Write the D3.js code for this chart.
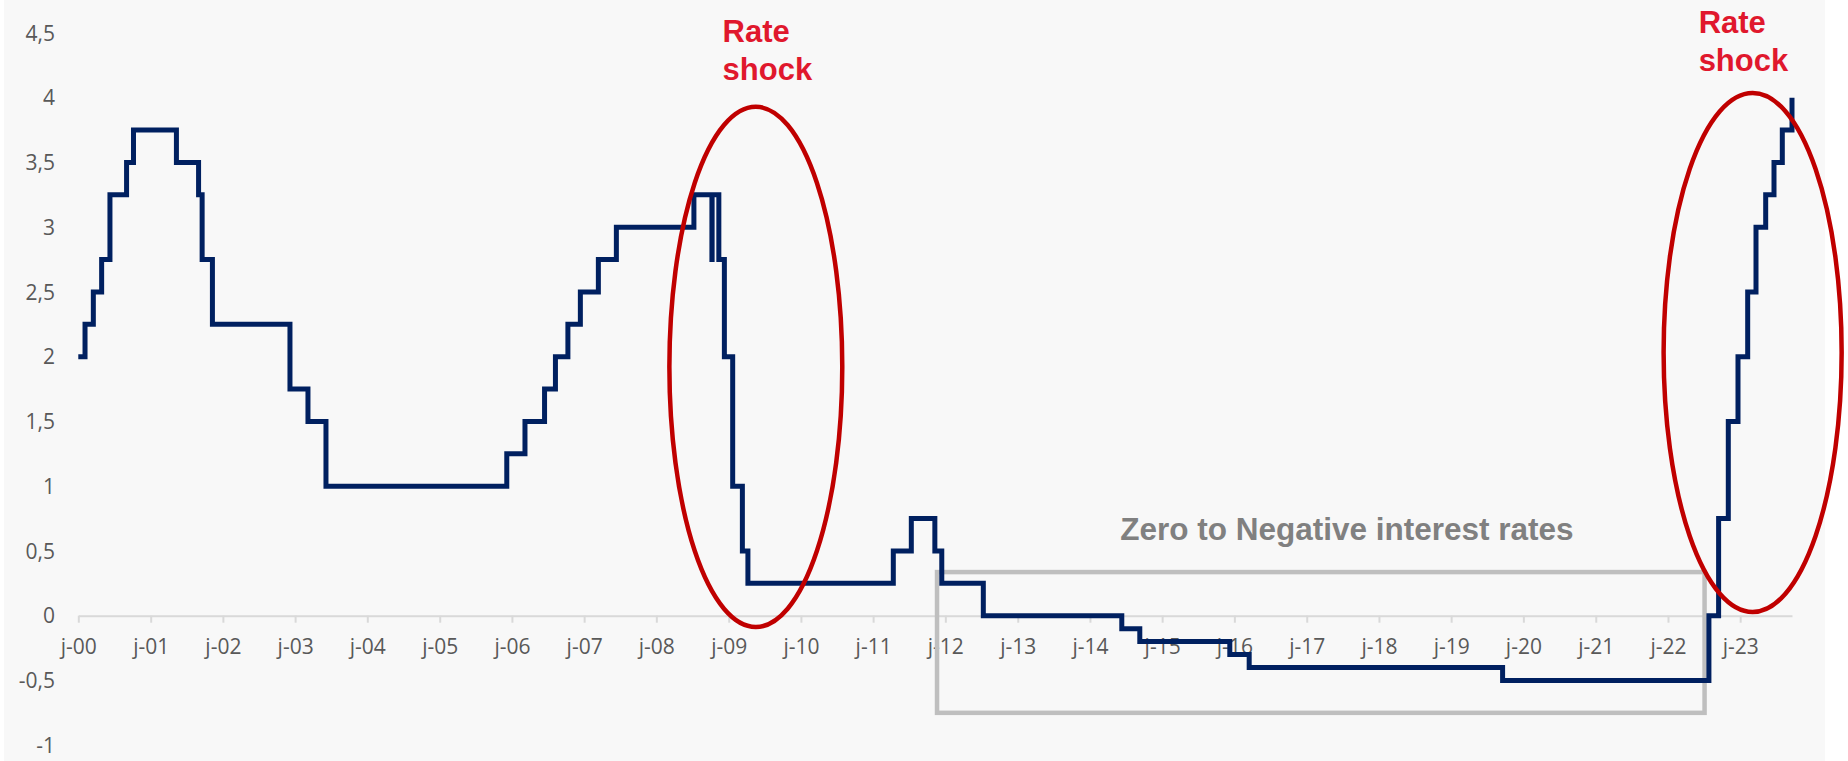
<!DOCTYPE html>
<html>
<head>
<meta charset="utf-8">
<script src="https://cdn.jsdelivr.net/npm/d3@7"></script>
<style>
  html, body { margin: 0; padding: 0; background: #ffffff; }
  svg { display: block; }
</style>
</head>
<body>
<svg id="chart" width="1848" height="761"></svg>
<script>
// ECB deposit facility rate, % — each entry is the date a new rate took effect
const changeDates = [
  "2000-01-01", "2000-02-04", "2000-03-17", "2000-04-28", "2000-06-09", "2000-09-01",
  "2000-10-06", "2001-05-11", "2001-08-31", "2001-09-18", "2001-11-09", "2002-12-06",
  "2003-03-07", "2003-06-06", "2005-12-06", "2006-03-08", "2006-06-15", "2006-08-09",
  "2006-10-11", "2006-12-13", "2007-03-14", "2007-06-13", "2008-07-09", "2008-10-08",
  "2008-10-09", "2008-11-12", "2008-12-10", "2009-01-21", "2009-03-11", "2009-04-08",
  "2011-04-13", "2011-07-13", "2011-11-09", "2011-12-14", "2012-07-11", "2014-06-11",
  "2014-09-10", "2015-12-09", "2016-03-16", "2019-09-18", "2022-07-27", "2022-09-14",
  "2022-11-02", "2022-12-21", "2023-02-08", "2023-03-22", "2023-05-10", "2023-06-21",
  "2023-08-02", "2023-09-20"
];
const rateValues = [
  2.00, 2.25, 2.50, 2.75, 3.25, 3.50,
  3.75, 3.50, 3.25, 2.75, 2.25, 1.75,
  1.50, 1.00, 1.25, 1.50, 1.75, 2.00,
  2.25, 2.50, 2.75, 3.00, 3.25, 2.75,
  3.25, 2.75, 2.00, 1.00, 0.50, 0.25,
  0.50, 0.75, 0.50, 0.25, 0.00, -0.10,
  -0.20, -0.30, -0.40, -0.50, 0.00, 0.75,
  1.50, 2.00, 2.50, 3.00, 3.25, 3.50,
  3.75, 4.00
];

// Axis ticks
const xTickYears = d3.range(2000, 2024);
const xTickLabels = ["j-00", "j-01", "j-02", "j-03", "j-04", "j-05", "j-06", "j-07",
  "j-08", "j-09", "j-10", "j-11", "j-12", "j-13", "j-14", "j-15", "j-16", "j-17",
  "j-18", "j-19", "j-20", "j-21", "j-22", "j-23"];
const yTickValues = [4.5, 4, 3.5, 3, 2.5, 2, 1.5, 1, 0.5, 0, -0.5, -1];
const yTickLabels = ["4,5", "4", "3,5", "3", "2,5", "2", "1,5", "1", "0,5", "0", "-0,5", "-1"];

// Highlighted periods: [start date, end date, top value, bottom value]
const shockPeriods = [
  ["2008-03-07", "2010-07-29", 3.93, -0.087],
  ["2021-12-10", "2024-05-28", 4.036, 0.029]
];
const shockLabelAnchors = [["2008-12-01", 4.43], ["2022-06-05", 4.50]];
const shockLabelLines = ["Rate", "shock"];
const negativeBox = ["2011-11-20", "2022-07-05", 0.337, -0.75];
const negativeLabel = ["2014-06-03", 0.585, "Zero to Negative interest rates"];

const parse = d3.utcParse("%Y-%m-%d");
const series = changeDates.map((d, i) => ({ date: parse(d), value: rateValues[i] }));

const svg = d3.select("#chart");
const W = 1848, H = 761;

// Chart surface
svg.append("rect").attr("x", 4).attr("y", 0).attr("width", 1821).attr("height", H)
  .attr("fill", "#f8f8f8");

const x = d3.scaleUtc()
  .domain([parse("2000-01-01"), parse("2023-09-20")])
  .range([78.3, 1792]);
const y = d3.scaleLinear()
  .domain([-1, 4.5])
  .range([745.2, 33]);

const labelFont = "'Open Sans', 'Noto Sans', sans-serif";

// Y labels (no axis line, no gridlines)
svg.append("g").selectAll("text").data(yTickValues).join("text")
  .attr("x", 55)
  .attr("y", d => y(d))
  .attr("dy", "0.36em")
  .attr("text-anchor", "end")
  .attr("font-family", labelFont)
  .attr("font-size", 21)
  .attr("fill", "#595959")
  .text((d, i) => yTickLabels[i]);

// X axis along zero
const xAxis = d3.axisBottom(x)
  .tickValues(xTickYears.map(yr => new Date(Date.UTC(yr, 0, 1))))
  .tickFormat((d, i) => xTickLabels[i])
  .tickSizeInner(7)
  .tickSizeOuter(0)
  .tickPadding(16);

const gx = svg.append("g")
  .attr("transform", `translate(0,${y(0)})`)
  .call(xAxis);
gx.select(".domain").attr("stroke", "#d9d9d9").attr("stroke-width", 2);
gx.selectAll(".tick line").attr("stroke", "#d9d9d9").attr("stroke-width", 2);
gx.selectAll(".tick text")
  .attr("font-family", labelFont)
  .attr("font-size", 21)
  .attr("fill", "#595959");

// Highlight box for the zero / negative rate period
svg.append("rect")
  .attr("x", x(parse(negativeBox[0])))
  .attr("y", y(negativeBox[2]))
  .attr("width", x(parse(negativeBox[1])) - x(parse(negativeBox[0])))
  .attr("height", y(negativeBox[3]) - y(negativeBox[2]))
  .attr("fill", "none")
  .attr("stroke", "#bfbfbf")
  .attr("stroke-width", 4.5);

svg.append("text")
  .attr("x", x(parse(negativeLabel[0])))
  .attr("y", y(negativeLabel[1]))
  .attr("font-family", "'Liberation Sans', Arial, sans-serif")
  .attr("font-weight", "bold")
  .attr("font-size", 31.5)
  .attr("fill", "#808080")
  .text(negativeLabel[2]);

// Rate line (step after each decision)
const line = d3.line()
  .x(d => x(d.date))
  .y(d => y(d.value))
  .curve(d3.curveStepAfter);

svg.append("path")
  .datum(series)
  .attr("d", line)
  .attr("fill", "none")
  .attr("stroke", "#002060")
  .attr("stroke-width", 5)
  .attr("stroke-linejoin", "miter");

// Rate shock ellipses
svg.append("g").selectAll("ellipse").data(shockPeriods).join("ellipse")
  .attr("cx", d => (x(parse(d[0])) + x(parse(d[1]))) / 2)
  .attr("cy", d => (y(d[2]) + y(d[3])) / 2)
  .attr("rx", d => (x(parse(d[1])) - x(parse(d[0]))) / 2)
  .attr("ry", d => (y(d[3]) - y(d[2])) / 2)
  .attr("fill", "none")
  .attr("stroke", "#c00000")
  .attr("stroke-width", 4.5);

// Rate shock labels
const shockText = svg.append("g").selectAll("text").data(shockLabelAnchors).join("text")
  .attr("x", d => x(parse(d[0])))
  .attr("y", d => y(d[1]))
  .attr("font-family", "'Liberation Sans', Arial, sans-serif")
  .attr("font-weight", "bold")
  .attr("font-size", 31)
  .attr("fill", "#e0182d");
shockText.each(function(d) {
  const t = d3.select(this);
  const x0 = x(parse(d[0]));
  shockLabelLines.forEach((s, i) => {
    t.append("tspan").attr("x", x0).attr("dy", i === 0 ? 0 : 38).text(s);
  });
});
</script>
</body>
</html>
